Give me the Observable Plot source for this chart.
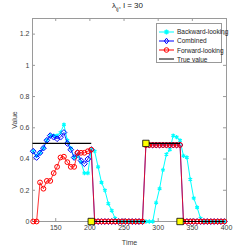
<!DOCTYPE html>
<html><head><meta charset="utf-8">
<script src="https://cdn.jsdelivr.net/npm/d3@7"></script>
<script src="https://cdn.jsdelivr.net/npm/@observablehq/plot@0.6"></script>
<style>
body{margin:0;background:#fff;font-family:"Liberation Sans",Arial,sans-serif;}
#wrap{position:relative;width:249px;height:249px;overflow:hidden;}
#title{position:absolute;left:0;width:255px;top:1px;text-align:center;font-size:8px;color:#222;}
#title sub{font-size:6px;}
#legend{position:absolute;left:156px;top:23px;width:66px;height:40px;border:1px solid #999;background:#fff;box-sizing:border-box;}
.row{position:absolute;left:1px;height:9px;font-size:6.5px;color:#222;display:flex;align-items:center;white-space:nowrap;}
.row svg{margin-right:2px;}
</style></head>
<body><div id="wrap"><div id="chart"></div><div id="title">λ<sub>ij</sub>, l = 30</div><div id="legend"></div></div>
<script>
const time = [117,122,127,132,137,142,147,152,157,162,167,172,177,182,187,192,197,202,207,212,217,222,227,232,237,242,247,252,257,262,267,272,277,282,287,292,297,302,307,312,317,322,327,332,337,342,347,352,357,362,367,372,377,382,387,392,397];
const backward = [0.45,0.42,0.44,0.47,0.52,0.55,0.55,0.55,0.57,0.62,0.52,0.47,0.41,0.42,0.38,0.31,0.31,0.46,0.45,0.35,0.25,0.20,0.115,0.07,0.02,0,0,0,0,0,0,0,0,0,0,0,0.12,0.21,0.33,0.43,0.46,0.55,0.54,0.52,0.42,0.41,0.27,0.15,0.09,0.02,0,0,0,0,0,0,0];
const combined = [0.45,0.41,0.44,0.47,0.52,0.55,0.54,0.53,0.54,0.57,0.50,0.46,0.41,0.44,0.39,0.37,0.40,0.46,0,0,0,0,0,0,0,0,0,0,0,0,0,0,0,0.49,0.49,0.49,0.49,0.49,0.49,0.49,0.49,0.49,0.49,0.49,0,0,0,0,0,0,0,0,0,0,0,0,0];
const forward = [0,0,0.25,0.21,0.26,0.26,0.31,0.35,0.41,0.415,0.38,0.35,0.35,0.44,0.44,0.44,0.45,0.46,0,0,0,0,0,0,0,0,0,0,0,0,0,0,0,0.49,0.49,0.49,0.49,0.49,0.49,0.49,0.49,0.49,0.49,0.49,0,0,0,0,0,0,0,0,0,0,0,0,0];
const truthStart = [116,202,282,332];
const truthEnd = [202,282,332,397];
const truthValue = [0.5,0,0.5,0];
const changeTime = [202,282,332];
const changeValue = [0,0.5,0];
const xTicks = [150,200,250,300,350,400];
const yTicks = [0,0.2,0.4,0.6,0.8,1,1.2];
const yTickLabels = ["0","0.2","0.4","0.6","0.8","1","1.2"];
const seriesNames = ["Backward-looking","Combined","Forward-looking","True value"];
const seriesColors = ["#00ffff","#0000ff","#ff0000","#000000"];

const rows = time.map((t,i)=>({t, b:backward[i], c:combined[i], f:forward[i]}));
const truth = truthStart.map((s,i)=>({x1:s, x2:truthEnd[i], y:truthValue[i]}));
const changes = changeTime.map((t,i)=>({t, v:changeValue[i]}));
const xDom = [116, 400], yDom = [0, 1.3];
const tx = 4.4, ty = 0.019;
const axisCol = "#9a9a9a";

const chart = Plot.plot({
  width: 249, height: 249,
  marginLeft: 32, marginRight: 23, marginTop: 18, marginBottom: 28,
  style: {fontFamily: '"Liberation Sans", Arial, sans-serif', fontSize: "7px", color: "#404040", background: "#fff"},
  x: {domain: xDom},
  y: {domain: yDom},
  marks: [
    Plot.frame({stroke: axisCol}),
    Plot.ruleX(xTicks, {x: d=>d, y1: yDom[0], y2: yDom[0]+ty, stroke: axisCol}),
    Plot.ruleX(xTicks, {x: d=>d, y1: yDom[1]-ty, y2: yDom[1], stroke: axisCol}),
    Plot.ruleY(yTicks, {y: d=>d, x1: xDom[0], x2: xDom[0]+tx, stroke: axisCol}),
    Plot.ruleY(yTicks, {y: d=>d, x1: xDom[1]-tx, x2: xDom[1], stroke: axisCol}),
    Plot.axisX({ticks: xTicks, tickSize: 0, tickPadding: 4, label: "Time", labelAnchor: "center", labelArrow: "none", labelOffset: 23}),
    Plot.axisY({ticks: yTicks, tickSize: 0, tickPadding: 3, tickFormat: d => yTickLabels[yTicks.indexOf(d)], label: "Value", labelAnchor: "center", labelArrow: "none", labelOffset: 20}),
    Plot.line(rows, {x: "t", y: "b", stroke: seriesColors[0], strokeWidth: 1}),
    Plot.dot(rows, {x: "t", y: "b", symbol: "asterisk", r: 2, stroke: seriesColors[0], strokeWidth: 1.2}),
    Plot.line(rows, {x: "t", y: "c", stroke: seriesColors[1], strokeWidth: 1, strokeOpacity: 0.8}),
    Plot.dot(rows, {x: "t", y: "c", symbol: "diamond2", r: 2.6, stroke: seriesColors[1], strokeWidth: 1}),
    Plot.line(rows, {x: "t", y: "f", stroke: seriesColors[2], strokeWidth: 1, strokeOpacity: 0.8}),
    Plot.dot(rows, {x: "t", y: "f", symbol: "circle", r: 2.4, stroke: seriesColors[2], strokeWidth: 1}),
    Plot.link(truth, {x1: "x1", x2: "x2", y1: "y", y2: "y", stroke: seriesColors[3], strokeWidth: 1.2}),
    Plot.dot(changes, {x: "t", y: "v", symbol: "square", r: 3.6, fill: "#ffff00", stroke: "#000", strokeWidth: 0.8})
  ]
});
document.getElementById("chart").appendChild(chart);

const symbolsSvg = [
  '<path d="M8.5,1.5V6.5M6,4H11M6.7,2.2L10.3,5.8M10.3,2.2L6.7,5.8" stroke="#00ffff" stroke-width="1.2"/>',
  '<path d="M8.5,1.2L10.6,4L8.5,6.8L6.4,4Z" fill="none" stroke="#0000ff" stroke-width="1"/>',
  '<circle cx="8.5" cy="4" r="2.3" fill="none" stroke="#ff0000" stroke-width="1"/>',
  ''
];
const leg = document.getElementById("legend");
seriesNames.forEach((n,i)=>{
  const d = document.createElement("div");
  d.className = "row";
  d.style.top = (3.2 + i*9.2) + "px";
  d.innerHTML = '<svg width="17" height="8"><line x1="1" y1="4" x2="16" y2="4" stroke="'+seriesColors[i]+'" stroke-width="1"/>'+symbolsSvg[i]+'</svg><span>'+n+'</span>';
  leg.appendChild(d);
});
</script>
</body></html>
